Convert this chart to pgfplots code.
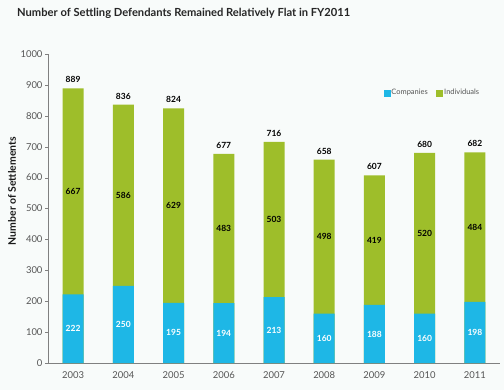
\documentclass[border=0pt]{standalone}
\usepackage{fontspec}
\setmainfont{Lato}
\usepackage{pgfplots}
\pgfplotsset{compat=1.18}
\usepackage{pgfplotstable}
\definecolor{bg}{RGB}{248,251,250}
\definecolor{comp}{RGB}{30,183,230}
\definecolor{indiv}{RGB}{158,190,42}
\definecolor{axgray}{RGB}{128,128,128}
\definecolor{txtgray}{RGB}{85,85,85}
\pgfplotstableread{
x c i
0 222 667
1 250 586
2 195 629
3 194 483
4 213 503
5 160 498
6 188 419
7 160 520
8 198 484
}\data
\begin{document}
\begin{tikzpicture}[x=1bp,y=1bp]
\useasboundingbox[fill=bg] (0,0) rectangle (504,390);
\node[anchor=west,inner sep=0pt,font=\bfseries\fontsize{11.2}{13}\selectfont,text=black!85] at (17,377) {Number of Settling Defendants Remained Relatively Flat in FY2011};
\node[rotate=90,inner sep=0pt,font=\bfseries\fontsize{10.5}{12}\selectfont,text=black!90] at (12,199) {Number of Settlements};
\begin{axis}[
  at={(48bp,27bp)}, anchor=south west,
  scale only axis, width=452bp, height=309bp,
  axis lines*=left,
  axis line style={axgray},
  xmin=-0.5, xmax=8.5, ymin=0, ymax=1000,
  ytick={0,100,...,1000},
  xtick={0,...,8},
  xticklabels={2003,2004,2005,2006,2007,2008,2009,2010,2011},
  major x tick style={draw=none},
  extra x ticks={-0.5,0.5,...,8.5},
  extra x tick labels={},
  extra x tick style={major tick style={draw=axgray}},
  tick align=outside,
  major tick length=3bp,
  tick style={axgray},
  y tick label style={font=\fontsize{9.5}{11}\selectfont,text=txtgray,xshift=1bp},
  x tick label style={font=\fontsize{9.5}{11}\selectfont,text=txtgray,yshift=-2bp},
  /pgf/number format/assume math mode=true,
  /pgf/number format/1000 sep={},
  legend style={at={(0.742,0.874)},anchor=west,draw=none,fill=none,inner sep=0pt,
    font=\fontsize{7.5}{9}\selectfont,text=txtgray,legend columns=2,
    /tikz/every even column/.append style={column sep=7bp},
    nodes={inner sep=1.5bp}},
  legend cell align=left,
]
\addlegendimage{legend image code/.code={\fill[comp] (0bp,-3bp) rectangle (6bp,3bp);}}
\addlegendentry{Companies}
\addlegendimage{legend image code/.code={\fill[indiv] (0bp,-3bp) rectangle (6bp,3bp);}}
\addlegendentry{Individuals}
\addplot[ybar,bar width=21bp,bar shift=0pt,fill=indiv,draw=none,forget plot]
  table[x=x,y expr=\thisrow{c}+\thisrow{i}] {\data};
\addplot[ybar,bar width=21bp,bar shift=0pt,fill=comp,draw=none,forget plot]
  table[x=x,y=c] {\data};
% labels
\addplot[draw=none,mark=none,forget plot,nodes near coords,point meta=explicit,
  every node near coord/.append style={anchor=center,font=\bfseries\fontsize{8.5}{9}\selectfont,text=white}]
  table[x=x,y expr=\thisrow{c}/2,meta=c] {\data};
\addplot[draw=none,mark=none,forget plot,nodes near coords,point meta=explicit,
  every node near coord/.append style={anchor=center,font=\bfseries\fontsize{8.5}{9}\selectfont,text=black}]
  table[x=x,y expr=\thisrow{c}+\thisrow{i}/2,meta=i] {\data};
\addplot[draw=none,mark=none,forget plot,nodes near coords,point meta=y,
  every node near coord/.append style={anchor=south,yshift=2bp,font=\bfseries\fontsize{8.5}{9}\selectfont,text=black}]
  table[x=x,y expr=\thisrow{c}+\thisrow{i}] {\data};
\end{axis}
\end{tikzpicture}
\end{document}
